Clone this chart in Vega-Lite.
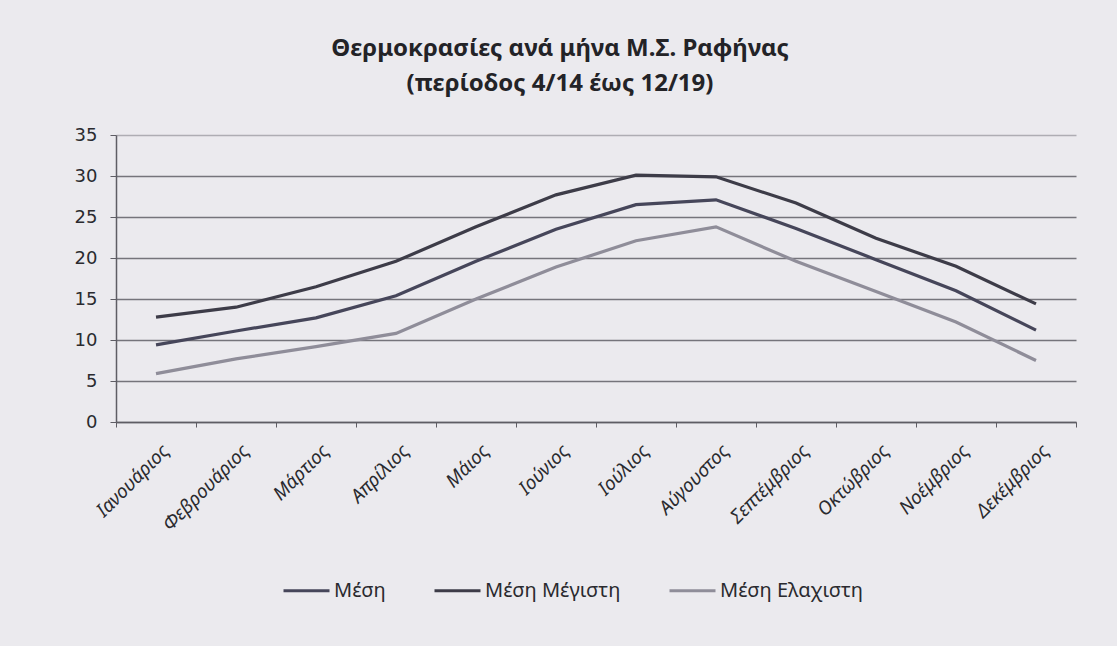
{
  "$schema": "https://vega.github.io/schema/vega-lite/v6.json",
  "width": 960,
  "height": 287,
  "autosize": {"type": "none"},
  "padding": {"left": 116, "top": 135, "right": 41, "bottom": 224},
  "background": "#ebeaee",
  "title": {
    "text": ["Θερμοκρασίες ανά μήνα Μ.Σ. Ραφήνας", "(περίοδος 4/14 έως 12/19)"],
    "anchor": "middle",
    "dx": -36,
    "offset": 30,
    "font": "Noto Sans",
    "fontSize": 24,
    "fontWeight": "bold",
    "color": "#232327",
    "lineHeight": 35
  },
  "config": {
    "view": {"stroke": null},
    "font": "Noto Sans"
  },
  "data": {
    "values": [
      {"month": "Ιανουάριος", "series": "Μέση Μέγιστη", "temp": 12.8},
      {"month": "Φεβρουάριος", "series": "Μέση Μέγιστη", "temp": 14.0},
      {"month": "Μάρτιος", "series": "Μέση Μέγιστη", "temp": 16.5},
      {"month": "Απρίλιος", "series": "Μέση Μέγιστη", "temp": 19.6},
      {"month": "Μάιος", "series": "Μέση Μέγιστη", "temp": 23.8},
      {"month": "Ιούνιος", "series": "Μέση Μέγιστη", "temp": 27.7},
      {"month": "Ιούλιος", "series": "Μέση Μέγιστη", "temp": 30.1},
      {"month": "Αύγουστος", "series": "Μέση Μέγιστη", "temp": 29.9},
      {"month": "Σεπτέμβριος", "series": "Μέση Μέγιστη", "temp": 26.7},
      {"month": "Οκτώβριος", "series": "Μέση Μέγιστη", "temp": 22.4},
      {"month": "Νοέμβριος", "series": "Μέση Μέγιστη", "temp": 19.0},
      {"month": "Δεκέμβριος", "series": "Μέση Μέγιστη", "temp": 14.4},
      {"month": "Ιανουάριος", "series": "Μέση", "temp": 9.4},
      {"month": "Φεβρουάριος", "series": "Μέση", "temp": 11.1},
      {"month": "Μάρτιος", "series": "Μέση", "temp": 12.7},
      {"month": "Απρίλιος", "series": "Μέση", "temp": 15.4},
      {"month": "Μάιος", "series": "Μέση", "temp": 19.6},
      {"month": "Ιούνιος", "series": "Μέση", "temp": 23.5},
      {"month": "Ιούλιος", "series": "Μέση", "temp": 26.5},
      {"month": "Αύγουστος", "series": "Μέση", "temp": 27.1},
      {"month": "Σεπτέμβριος", "series": "Μέση", "temp": 23.6},
      {"month": "Οκτώβριος", "series": "Μέση", "temp": 19.8},
      {"month": "Νοέμβριος", "series": "Μέση", "temp": 16.0},
      {"month": "Δεκέμβριος", "series": "Μέση", "temp": 11.2},
      {"month": "Ιανουάριος", "series": "Μέση Ελαχιστη", "temp": 5.9},
      {"month": "Φεβρουάριος", "series": "Μέση Ελαχιστη", "temp": 7.7},
      {"month": "Μάρτιος", "series": "Μέση Ελαχιστη", "temp": 9.2},
      {"month": "Απρίλιος", "series": "Μέση Ελαχιστη", "temp": 10.8},
      {"month": "Μάιος", "series": "Μέση Ελαχιστη", "temp": 15.0},
      {"month": "Ιούνιος", "series": "Μέση Ελαχιστη", "temp": 18.9},
      {"month": "Ιούλιος", "series": "Μέση Ελαχιστη", "temp": 22.1},
      {"month": "Αύγουστος", "series": "Μέση Ελαχιστη", "temp": 23.8},
      {"month": "Σεπτέμβριος", "series": "Μέση Ελαχιστη", "temp": 19.6},
      {"month": "Οκτώβριος", "series": "Μέση Ελαχιστη", "temp": 15.9},
      {"month": "Νοέμβριος", "series": "Μέση Ελαχιστη", "temp": 12.2},
      {"month": "Δεκέμβριος", "series": "Μέση Ελαχιστη", "temp": 7.5}
    ]
  },
  "mark": {"type": "line", "strokeWidth": 3.2, "interpolate": "linear"},
  "encoding": {
    "x": {
      "field": "month",
      "type": "nominal",
      "sort": null,
      "scale": {"type": "band", "paddingInner": 0, "paddingOuter": 0},
      "axis": {
        "title": null,
        "domainColor": "#5e5d64",
        "domainWidth": 1.5,
        "tickBand": "extent",
        "tickColor": "#5e5d64",
        "tickSize": 5,
        "tickWidth": 1,
        "labelAngle": -45,
        "labelAlign": "right",
        "labelBaseline": "top",
        "labelPadding": 14,
        "labelOffset": 3,
        "labelFont": "Noto Sans",
        "labelFontStyle": "italic",
        "labelFontSize": 19,
        "labelColor": "#2a2a2f",
        "grid": false
      }
    },
    "y": {
      "field": "temp",
      "type": "quantitative",
      "scale": {"domain": [0, 35], "nice": false, "zero": true},
      "axis": {
        "title": null,
        "values": [0, 5, 10, 15, 20, 25, 30, 35],
        "domainColor": "#5e5d64",
        "domainWidth": 1.5,
        "tickColor": "#5e5d64",
        "tickSize": 6,
        "labelFont": "DejaVu Sans",
        "labelFontSize": 18,
        "labelColor": "#2a2a2f",
        "labelPadding": 13,
        "grid": true,
        "gridColor": {"condition": {"test": "datum.value === 35", "value": "#aeadb3"}, "value": "#75747b"},
        "gridWidth": 1.6
      }
    },
    "color": {
      "field": "series",
      "type": "nominal",
      "scale": {
        "domain": ["Μέση", "Μέση Μέγιστη", "Μέση Ελαχιστη"],
        "range": ["#46465a", "#3d3c48", "#8f8d99"]
      },
      "legend": {
        "title": null,
        "orient": "none",
        "direction": "horizontal",
        "legendX": 166,
        "legendY": 431,
        "symbolType": "stroke",
        "symbolSize": 2116,
        "symbolStrokeWidth": 3,
        "labelFont": "Noto Sans",
        "labelFontSize": 20,
        "labelColor": "#2a2a2f",
        "labelOffset": 3,
        "columnPadding": 42
      }
    }
  }
}
